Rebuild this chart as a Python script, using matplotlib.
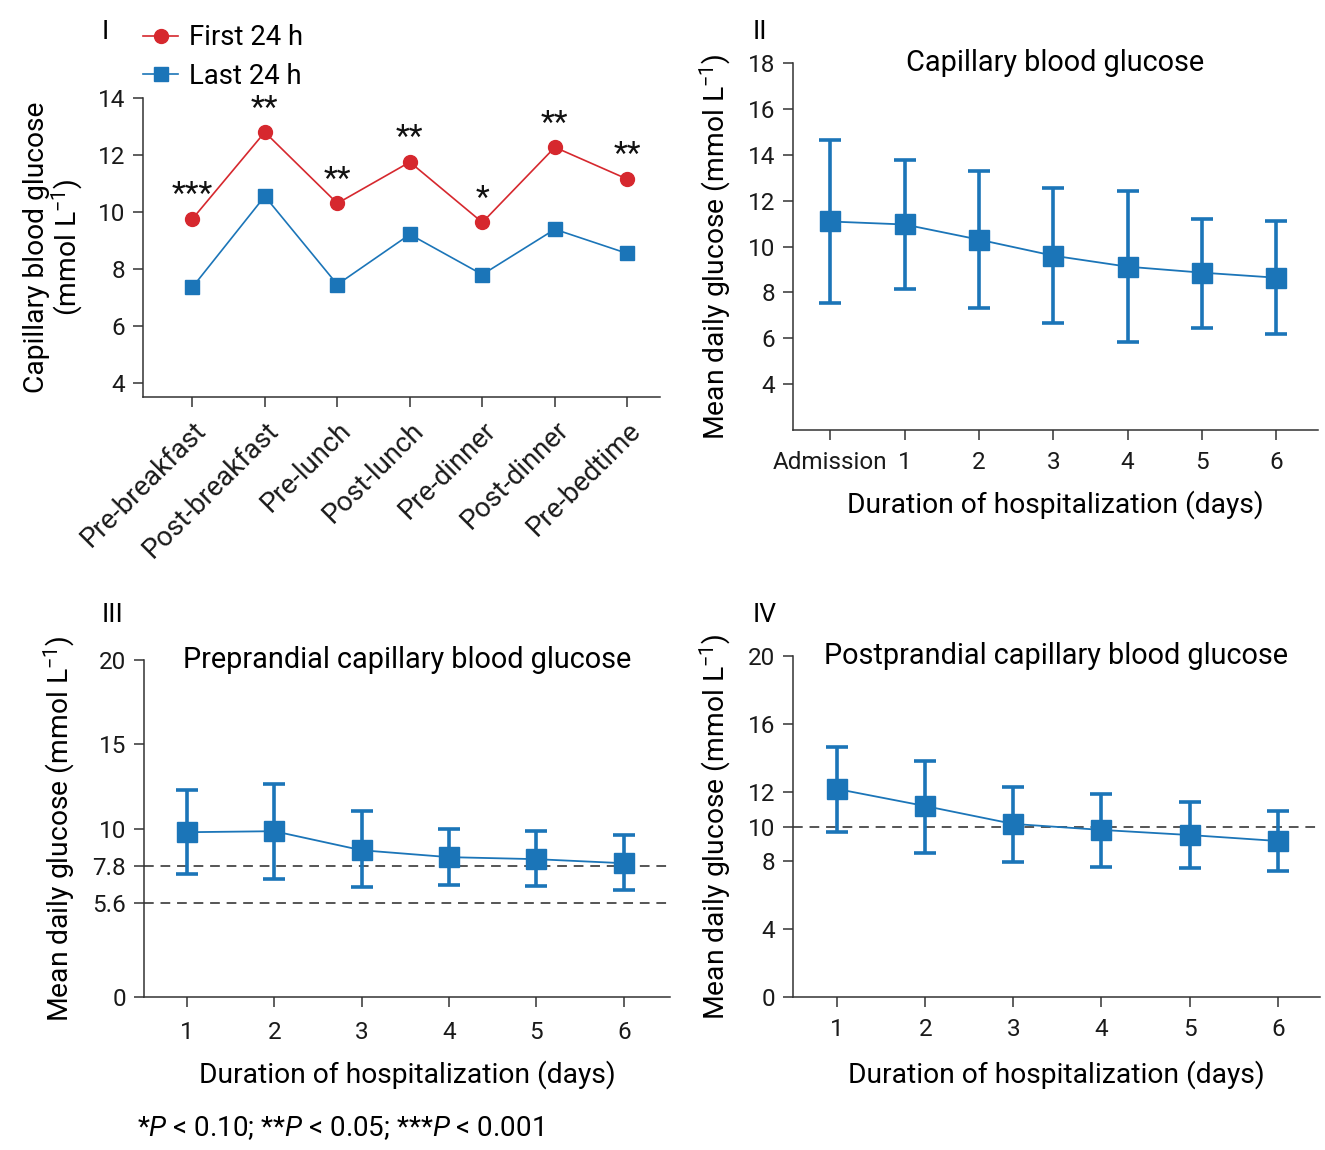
import matplotlib
matplotlib.use("Agg")
import matplotlib.pyplot as plt
import numpy as np

plt.rcParams['font.family'] = ['Roboto', 'DejaVu Sans']
plt.rcParams['mathtext.fontset'] = 'custom'
plt.rcParams['mathtext.rm'] = 'Roboto'
plt.rcParams['mathtext.it'] = 'Roboto:italic'
plt.rcParams['axes.linewidth'] = 1.1
plt.rcParams['axes.edgecolor'] = '#333333'

RED = '#d6282e'
BLUE = '#1b75b8'
DASH = '#555555'

# Panel I
meal_times = ['Pre-breakfast', 'Post-breakfast', 'Pre-lunch', 'Post-lunch',
              'Pre-dinner', 'Post-dinner', 'Pre-bedtime']
first_24h = [9.75, 12.8, 10.3, 11.75, 9.63, 12.27, 11.15]
last_24h = [7.35, 10.55, 7.45, 9.21, 7.8, 9.39, 8.54]
significance = ['***', '**', '**', '**', '*', '**', '**']

# Panel II
days_ii = ['Admission', '1', '2', '3', '4', '5', '6']
cbg_mean = [11.09, 10.96, 10.3, 9.6, 9.12, 8.86, 8.64]
cbg_upper = [14.63, 13.75, 13.27, 12.57, 12.44, 11.22, 11.09]
cbg_lower = [7.54, 8.16, 7.32, 6.67, 5.84, 6.45, 6.19]

# Panel III
days = ['1', '2', '3', '4', '5', '6']
pre_mean = [9.78, 9.84, 8.71, 8.30, 8.18, 7.94]
pre_upper = [12.27, 12.63, 11.03, 9.96, 9.84, 9.6]
pre_lower = [7.29, 6.99, 6.52, 6.64, 6.58, 6.34]
pre_targets = [7.8, 5.6]

# Panel IV
post_mean = [12.2, 11.2, 10.15, 9.8, 9.5, 9.15]
post_upper = [14.66, 13.84, 12.32, 11.9, 11.44, 10.9]
post_lower = [9.68, 8.45, 7.92, 7.62, 7.57, 7.39]
post_targets = [10]

W, H = 1325, 1150
fig = plt.figure(figsize=(W / 100, H / 100), dpi=100)

def axes_px(l, r, t, b):
    return fig.add_axes([l / W, 1 - b / H, (r - l) / W, (b - t) / H])

TICK_FS = 17.5
LABEL_FS = 20.3
TITLE_FS = 20.8

def style(ax):
    for s in ['top', 'right']:
        ax.spines[s].set_visible(False)
    ax.tick_params(direction='out', length=7, width=1.1, colors='#333333',
                   labelsize=TICK_FS, labelcolor='#1a1a1a', pad=6)

# ---- Panel I ----
ax1 = axes_px(143, 660, 98, 397)
style(ax1)
x = np.arange(len(meal_times))
ax1.plot(x, first_24h, '-o', color=RED, lw=1.2, ms=10, label='First 24 h')
ax1.plot(x, last_24h, '-s', color=BLUE, lw=1.2, ms=10, label='Last 24 h')
for xi, yi, s in zip(x, first_24h, significance):
    ax1.annotate(s, (xi, yi), xytext=(0, 7), textcoords='offset points',
                 ha='center', va='bottom', fontsize=23, color='#111111')
ax1.set_xlim(-0.68, 6.45)
ax1.set_ylim(3.5, 14)
ax1.set_yticks([4, 6, 8, 10, 12, 14])
ax1.set_xticks(x)
ax1.set_xticklabels(meal_times, rotation=45, ha='right', va='top',
                    rotation_mode='anchor', fontsize=19.8)
ax1.tick_params(axis='x', pad=7)
ax1.spines['left'].set_bounds(3.5, 14)
ax1.set_ylabel('Capillary blood glucose\n(mmol L$^{-1}$)', fontsize=LABEL_FS,
               labelpad=8, linespacing=1.0)
leg = ax1.legend(loc='lower left', bbox_to_anchor=(-0.022, 0.99), frameon=False,
                 fontsize=19.8, handlelength=1.3, handletextpad=0.4,
                 labelspacing=0.42, borderaxespad=0)

# ---- Panel II ----
ax2 = axes_px(793, 1318, 63, 430)
style(ax2)
x2 = np.arange(len(days_ii))
yerr2 = [np.array(cbg_mean) - np.array(cbg_lower),
         np.array(cbg_upper) - np.array(cbg_mean)]
ax2.errorbar(x2, cbg_mean, yerr=yerr2, fmt='-s', color=BLUE, lw=1.3, ms=14,
             elinewidth=2.6, capsize=8, capthick=2.6)
ax2.set_xlim(-0.5, 6.56)
ax2.set_ylim(2, 18)
ax2.set_yticks([4, 6, 8, 10, 12, 14, 16, 18])
ax2.set_xticks(x2)
ax2.set_xticklabels(days_ii)
ax2.tick_params(axis='x', pad=8)
ax2.spines['left'].set_bounds(2, 18)
ax2.set_xlabel('Duration of hospitalization (days)', fontsize=LABEL_FS, labelpad=12)
ax2.set_ylabel('Mean daily glucose (mmol L$^{-1}$)', fontsize=LABEL_FS, labelpad=10)
ax2.text(0.5, 1.0, 'Capillary blood glucose', transform=ax2.transAxes,
         ha='center', va='center', fontsize=TITLE_FS)

# ---- Panel III ----
ax3 = axes_px(144, 670, 660, 997)
style(ax3)
x3 = np.arange(1, len(days) + 1)
for t in pre_targets:
    ax3.axhline(t, color=DASH, lw=1.4, ls=(0, (5, 3.5)), zorder=1)
yerr3 = [np.array(pre_mean) - np.array(pre_lower),
         np.array(pre_upper) - np.array(pre_mean)]
ax3.errorbar(x3, pre_mean, yerr=yerr3, fmt='-s', color=BLUE, lw=1.3, ms=14,
             elinewidth=2.6, capsize=8, capthick=2.6, zorder=3)
ax3.set_xlim(0.51, 6.53)
ax3.set_ylim(0, 20)
ax3.set_yticks([0, 5.6, 7.8, 10, 15, 20])
ax3.set_yticklabels(['0', '5.6', '7.8', '10', '15', '20'])
ax3.set_xticks(x3)
ax3.set_xticklabels(days)
ax3.tick_params(axis='x', pad=10)
ax3.set_xlabel('Duration of hospitalization (days)', fontsize=LABEL_FS, labelpad=12)
ax3.set_ylabel('Mean daily glucose (mmol L$^{-1}$)', fontsize=LABEL_FS, labelpad=10)
ax3.text(0.5, 1.0, 'Preprandial capillary blood glucose', transform=ax3.transAxes,
         ha='center', va='center', fontsize=TITLE_FS)

# ---- Panel IV ----
ax4 = axes_px(793, 1320, 656, 997)
style(ax4)
x4 = np.arange(1, len(days) + 1)
for t in post_targets:
    ax4.axhline(t, color=DASH, lw=1.4, ls=(0, (5, 3.5)), zorder=1)
yerr4 = [np.array(post_mean) - np.array(post_lower),
         np.array(post_upper) - np.array(post_mean)]
ax4.errorbar(x4, post_mean, yerr=yerr4, fmt='-s', color=BLUE, lw=1.3, ms=14,
             elinewidth=2.6, capsize=8, capthick=2.6, zorder=3)
ax4.set_xlim(0.5, 6.48)
ax4.set_ylim(0, 20)
ax4.set_yticks([0, 4, 8, 10, 12, 16, 20])
ax4.set_xticks(x4)
ax4.set_xticklabels(days)
ax4.tick_params(axis='x', pad=8)
ax4.set_xlabel('Duration of hospitalization (days)', fontsize=LABEL_FS, labelpad=14)
ax4.set_ylabel('Mean daily glucose (mmol L$^{-1}$)', fontsize=LABEL_FS, labelpad=10)
ax4.text(0.5, 1.0, 'Postprandial capillary blood glucose', transform=ax4.transAxes,
         ha='center', va='center', fontsize=TITLE_FS)

# Panel labels
for lbl, (px, py) in [('I', (105, 32)), ('II', (760, 32)), ('III', (113, 615)), ('IV', (765, 615))]:
    fig.text(px / W, 1 - py / H, lbl, ha='center', va='center', fontsize=19)

fig.text(137 / W, 1 - 1128 / H, r'*$P$ < 0.10; **$P$ < 0.05; ***$P$ < 0.001',
         ha='left', va='center', fontsize=20)

fig.savefig('out.png', dpi=100, facecolor='white')
